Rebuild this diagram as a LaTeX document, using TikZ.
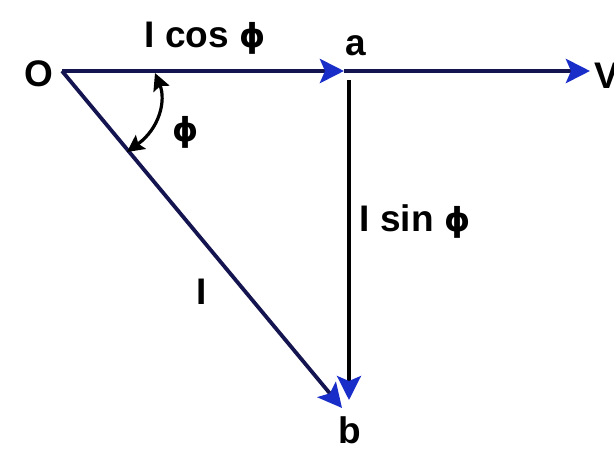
\documentclass[tikz,border=0pt]{standalone}
\usepackage{fontspec}
\setmainfont{Liberation Sans}
\newfontfamily\phifont{DejaVu Sans}
\usetikzlibrary{arrows.meta}
\definecolor{navy}{RGB}{20,20,80}
\definecolor{arrowblue}{RGB}{25,45,200}
\tikzset{
  lbl/.style={inner sep=0pt, font=\fontsize{37}{37}\selectfont\bfseries},
  bluetip/.style={-{Stealth[length=24pt,width=24pt,inset=5pt,fill=arrowblue,color=arrowblue]}},
  phasor/.style={line width=4.5pt, draw=navy, bluetip},
  plainline/.style={line width=3.2pt, draw=black},
  anglearrow/.style={line width=3.2pt, draw=black, {Stealth[length=17pt,width=17pt,inset=3pt]}-{Stealth[length=17pt,width=17pt,inset=3pt]}}
}
\newcommand{\ph}{{\phifont\fontsize{33}{33}\selectfont ϕ}}
\begin{document}
\begin{tikzpicture}[x=1pt,y=-1pt]
\useasboundingbox[fill=white] (0,0) rectangle (614,452);
% points
\coordinate (o) at (62,71);
\coordinate (a) at (344,71);
\coordinate (v) at (590,71);
\coordinate (atop) at (349,80);
\coordinate (bv) at (349,400);
\coordinate (b) at (342,408);
\coordinate (angtop) at (155,73);
\coordinate (angbot) at (127,152);
% lines
\draw[phasor] (o) -- (a);
\draw[phasor] (a) -- (v);
\draw[plainline, bluetip] (atop) -- (bv);
\draw[phasor, line width=3.8pt] (o) -- (b);
\draw[anglearrow] (angtop) .. controls (166,100) and (160,128) .. (angbot);
% labels
\node[lbl] (O) at (39,74) {O};
\node[lbl] (Icos) at (205,38) {I cos \ph};
\node[lbl] (alab) at (356,46) {a};
\node[lbl] (V) at (607,76) {V};
\node[lbl] (phi) at (186,132) {\ph};
\node[lbl] (Isin) at (415,222) {I sin \ph};
\node[lbl] (I) at (202,292) {I};
\node[lbl] (blab) at (350,430) {b};
\end{tikzpicture}
\end{document}
